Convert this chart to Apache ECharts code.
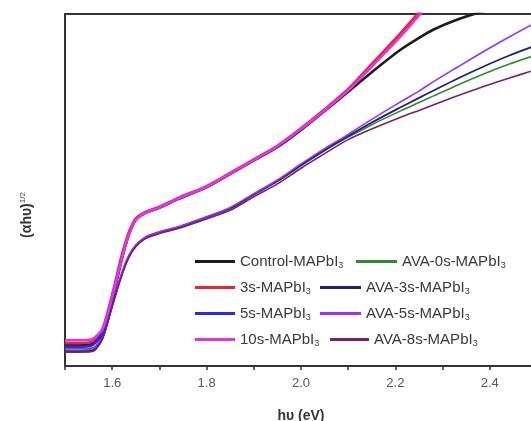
<!DOCTYPE html>
<html>
<head>
<meta charset="utf-8">
<script src="https://cdn.jsdelivr.net/npm/echarts@6/dist/echarts.min.js"></script>
<style>html,body{margin:0;padding:0;background:#fff;}#c{width:531px;height:421px;}</style>
</head>
<body>
<div id="c"></div>
<script>
// photon energy (eV)
var energy = [1.50, 1.53, 1.555, 1.565, 1.58, 1.60, 1.62, 1.635, 1.65, 1.67, 1.70, 1.74, 1.80, 1.85, 1.90, 1.95, 2.00, 2.05, 2.10, 2.15, 2.21, 2.25, 2.28, 2.33, 2.387, 2.44, 2.50];
var xTicks = ['1.6', '1.8', '2.0', '2.2', '2.4'];

var controlMAPbI3 = [7.2, 7.2, 7.5, 8.5, 11.2, 20.5, 31.5, 38.3, 42.5, 44.4, 45.8, 48.2, 51.5, 55.2, 59.0, 62.7, 67.5, 72.8, 78.2, 83.7, 89.9, 93.3, 95.6, 98.4, 100.8, 102.5, 104.0];
var s3MAPbI3 = [7.8, 7.8, 8.1, 9.2, 12.0, 21.5, 32.3, 38.8, 42.7, 44.5, 46.0, 48.5, 51.8, 55.5, 59.3, 63.1, 68.0, 73.3, 79.0, 86.0, 94.5, 100.5, 105.0];
var s5MAPbI3 = [6.8, 6.8, 7.1, 8.0, 10.6, 19.8, 31.0, 38.0, 42.3, 44.2, 45.7, 48.2, 51.5, 55.2, 59.0, 62.9, 67.7, 73.0, 78.7, 85.6, 94.0, 100.2, 104.5];
var s10MAPbI3 = [8.6, 8.6, 8.8, 9.6, 11.8, 20.8, 31.3, 38.1, 42.3, 44.3, 45.8, 48.3, 51.6, 55.3, 59.1, 63.0, 67.8, 73.0, 78.6, 85.3, 93.6, 99.6, 104.0];
var ava0MAPbI3 = [5.9, 5.9, 6.0, 6.5, 9.6, 18.5, 27.0, 32.0, 35.0, 37.3, 38.8, 40.2, 43.0, 45.5, 49.4, 53.1, 57.5, 61.7, 65.5, 69.0, 72.8, 75.2, 77.0, 80.0, 83.2, 85.9, 88.6];
var ava3MAPbI3 = [5.5, 5.5, 5.6, 6.2, 9.3, 18.3, 27.0, 32.1, 35.1, 37.4, 38.9, 40.3, 43.1, 45.6, 49.5, 53.2, 57.7, 61.9, 65.8, 69.6, 73.8, 76.5, 78.5, 81.8, 85.3, 88.3, 91.3];
var ava5MAPbI3 = [6.3, 6.3, 6.4, 7.0, 10.0, 19.0, 27.4, 32.4, 35.3, 37.5, 39.0, 40.4, 43.2, 45.8, 49.7, 53.5, 58.0, 62.3, 66.3, 70.5, 75.3, 78.4, 81.0, 85.0, 89.5, 93.5, 97.8];
var ava8MAPbI3 = [5.3, 5.3, 5.4, 6.0, 9.1, 18.0, 26.6, 31.7, 34.8, 37.0, 38.5, 39.9, 42.6, 45.0, 48.8, 52.4, 56.8, 60.9, 64.8, 67.8, 71.0, 73.0, 74.5, 77.0, 79.7, 82.0, 84.5];

var names = ['Control-MAPbI3', '3s-MAPbI3', '5s-MAPbI3', '10s-MAPbI3', 'AVA-0s-MAPbI3', 'AVA-3s-MAPbI3', 'AVA-5s-MAPbI3', 'AVA-8s-MAPbI3'];
var values = [controlMAPbI3, s3MAPbI3, s5MAPbI3, s10MAPbI3, ava0MAPbI3, ava3MAPbI3, ava5MAPbI3, ava8MAPbI3];
var colors = ['#1c1c1c', '#e8262e', '#2a2ae6', '#e632e6', '#2e8b2e', '#1f1f7a', '#9b30ff', '#7d2060'];
var widths = [2.6, 2.6, 2.6, 2.6, 1.6, 1.8, 1.6, 1.6];

function pairs(ys) {
  var out = [];
  for (var i = 0; i < ys.length; i++) out.push([energy[i], ys[i]]);
  return out;
}

// draw order: AVA group first, then the upper group
var order = [4, 5, 6, 7, 0, 2, 1, 3];
var series = order.map(function (k) {
  return {
    name: names[k], type: 'line', data: pairs(values[k]), smooth: 0.3,
    symbol: 'none', clip: true, color: colors[k],
    lineStyle: { width: widths[k], color: colors[k] }
  };
});

// legend layout: [name index, left, centerY, itemWidth]
var legendSpots = [
  [0, 195, 263, 40], [4, 356, 263, 41],
  [1, 195, 289, 40], [5, 320, 289, 41],
  [2, 195, 315, 40], [6, 320, 315, 41],
  [3, 195, 341, 40], [7, 330, 341, 39]
];
var legends = legendSpots.map(function (s) {
  return {
    data: [names[s[0]]], left: s[1], top: s[2] - 9, itemWidth: s[3], itemHeight: 3,
    icon: 'rect', itemGap: 0, padding: 0, selectedMode: false,
    formatter: function (n) { return n.replace(/MAPbI3$/, 'MAPbI{s|3}'); },
    textStyle: {
      fontFamily: 'Liberation Sans, Arial, sans-serif', fontSize: 15, color: '#3a3a3a',
      rich: { s: { fontSize: 9, color: '#3a3a3a', fontFamily: 'Liberation Sans, Arial, sans-serif', padding: [8, 0, 0, 0] } }
    }
  };
});

var chart = echarts.init(document.getElementById('c'), null, { renderer: 'canvas' });
chart.setOption({
  animation: false,
  backgroundColor: '#fff',
  grid: { left: 65, right: -6, top: 14, bottom: 55, outerBoundsMode: 'none', containLabel: false, show: true, borderColor: '#333', borderWidth: 2, backgroundColor: 'transparent' },
  legend: legends,
  xAxis: {
    type: 'value', min: 1.5, max: 2.5, interval: 0.1,
    name: 'hυ (eV)', nameLocation: 'middle', nameGap: 43,
    nameTextStyle: { fontFamily: 'Liberation Sans, Arial, sans-serif', fontSize: 14, fontWeight: 'bold', color: '#333' },
    axisLine: { show: true, lineStyle: { color: '#333', width: 2 } },
    axisTick: { show: true, length: 4, lineStyle: { color: '#333', width: 1.5 } },
    axisLabel: {
      margin: 11, color: '#555', fontSize: 13, fontFamily: 'Liberation Sans, Arial, sans-serif',
      formatter: function (v) {
        var t = v.toFixed(1);
        return xTicks.indexOf(t) >= 0 ? t : '';
      }
    },
    splitLine: { show: false }
  },
  yAxis: {
    type: 'value', min: 1.4, max: 100,
    name: '{a|(αhυ)}{s|1/2}', nameLocation: 'middle', nameGap: 30, nameRotate: 90,
    nameTextStyle: {
      padding: [0, 50, 0, 0],
      rich: {
        a: { fontFamily: 'Liberation Sans, Arial, sans-serif', fontSize: 14, fontWeight: 'bold', color: '#333' },
        s: { fontFamily: 'Liberation Sans, Arial, sans-serif', fontSize: 8, color: '#444', padding: [0, 0, 8, 0] }
      }
    },
    axisLine: { show: true, lineStyle: { color: '#333', width: 2 } },
    axisTick: { show: false },
    axisLabel: { show: false },
    splitLine: { show: false }
  },
  series: series
});
</script>
</body>
</html>
